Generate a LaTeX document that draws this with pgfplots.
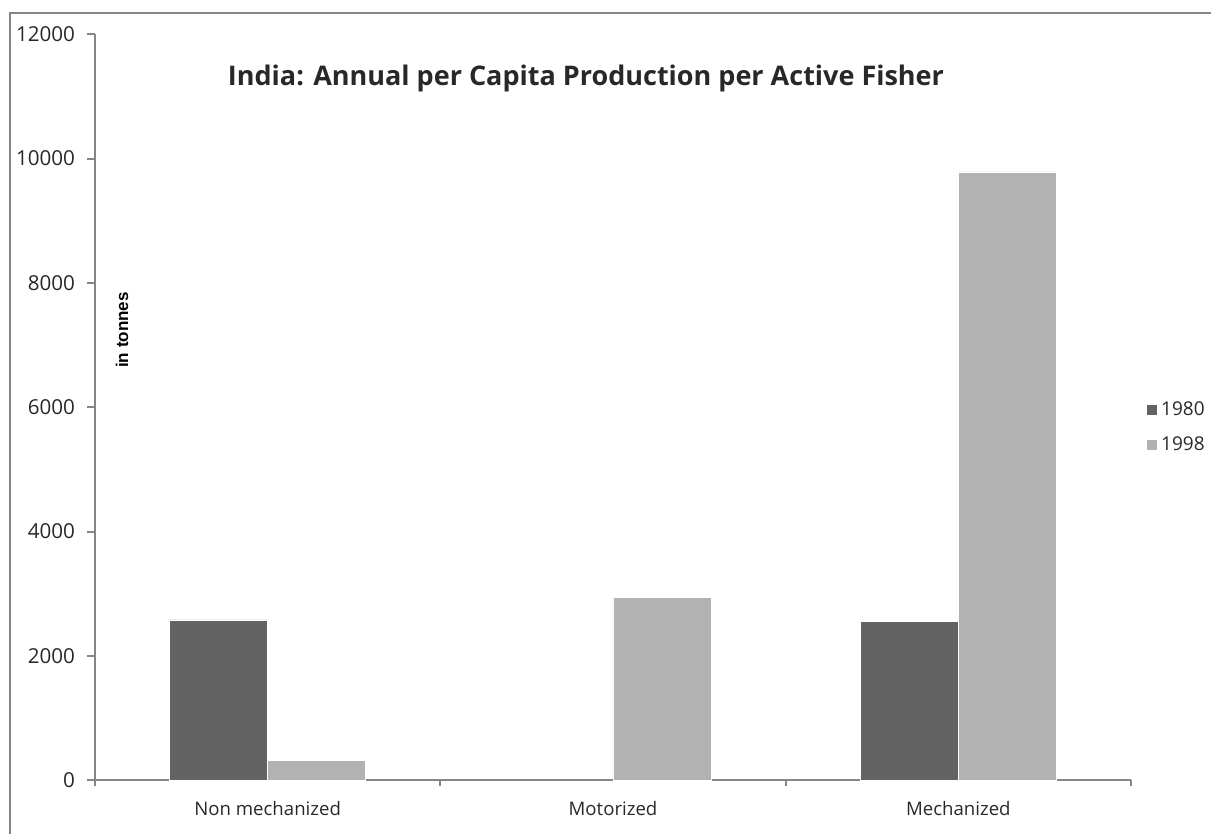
\documentclass[border=0pt]{standalone}
\usepackage{fontspec}
\setmainfont{Open Sans}
\newfontfamily\arialbold[BoldFont={Liberation Sans Bold}]{Liberation Sans}
\usepackage{pgfplots}
\pgfplotsset{compat=1.18}
\definecolor{darkbar}{RGB}{99,99,99}
\definecolor{lightbar}{RGB}{178,178,178}
\definecolor{axgray}{RGB}{134,134,134}
\definecolor{txt}{RGB}{40,40,40}
\begin{document}
\begin{tikzpicture}
\clip (0,0) rectangle (605.5pt,417pt);
\path[use as bounding box] (0,0) rectangle (605.5pt,417pt);
\draw[axgray, line width=1.1pt] (5pt,-10pt) rectangle (620pt,410.5pt);
\begin{axis}[
  at={(47.5pt,26.85pt)}, anchor=south west,
  scale only axis, width=518pt, height=373pt,
  ymin=0, ymax=12000, ytick={0,2000,...,12000},
  xmin=-0.5, xmax=2.5,
  xtick={-0.5,0.5,1.5,2.5},
  xticklabels={},
  extra x ticks={0,1,2},
  extra x tick labels={Non mechanized, Motorized, Mechanized},
  extra x tick style={major tick length=0pt, tick style={draw=none}},
  axis x line*=bottom, axis y line*=left,
  axis line style={axgray, line width=1.1pt},
  y axis line style={-}, x axis line style={-},
  tick align=outside,
  major tick length=4pt,
  major x tick style={/pgfplots/major tick length=3pt},
  tick style={axgray, line width=1pt},
  scaled y ticks=false,
  /pgf/number format/assume math mode=true,
  yticklabel={\pgfmathprintnumber[fixed,1000 sep={}]{\tick}},
  ticklabel style={font=\fontsize{9.3}{11}\selectfont, text=txt},
  yticklabel style={xshift=-2.5pt, font=\fontsize{10.3}{12}\selectfont},
  xticklabel style={yshift=-7pt},
  ybar=0pt, bar width=49pt,
  legend style={at={(1.0145,0.512)}, anchor=north west, draw=none, fill=none,
    font=\fontsize{9.5}{11}\selectfont, text=txt, row sep=6pt, inner sep=0pt,
    nodes={inner sep=1.5pt}},
  legend image code/.code={\fill[#1] (0pt,-2.75pt) rectangle (5.5pt,2.75pt);},
  clip=false,
]
\addplot[fill=darkbar, draw=white, line width=0.4pt] coordinates {(0,2580) (2,2550)};
\addplot[fill=lightbar, draw=white, line width=0.4pt] coordinates {(0,322) (1,2945) (2,9785)};
\legend{1980,1998}
\end{axis}
\node[text=txt, font=\bfseries\fontsize{13.5}{16}\selectfont] at (293pt,377.5pt) {India: Annual per Capita Production per Active Fisher};
\node[rotate=90, font=\arialbold\bfseries\fontsize{8.5}{10}\selectfont] at (61pt,252pt) {in tonnes};
\end{tikzpicture}
\end{document}
